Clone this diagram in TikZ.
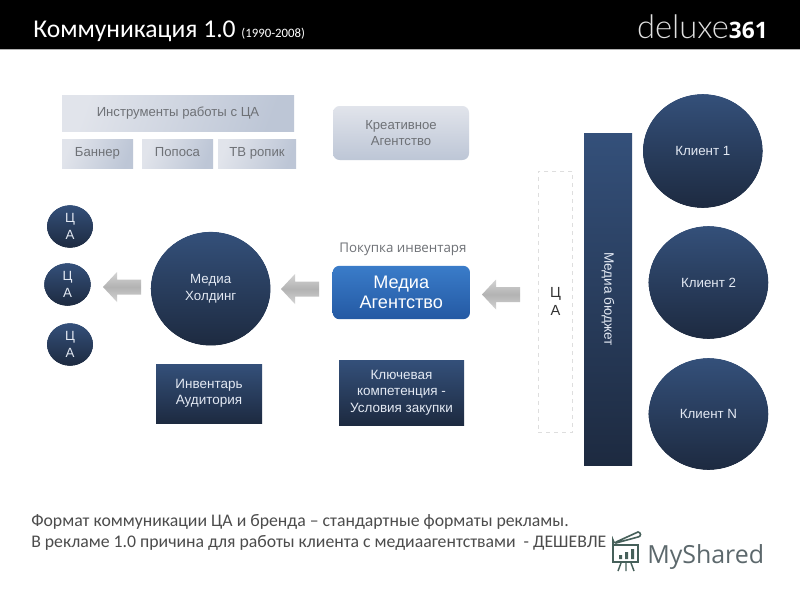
\documentclass[tikz,border=0pt]{standalone}
\usepackage{fontspec}
\setmainfont{Liberation Sans}
\newfontfamily\carl{Carlito}
\newfontfamily\thinf{Lato Light}
\newfontfamily\opens{Open Sans}
\usetikzlibrary{shapes.geometric}
\definecolor{darktop}{HTML}{34507A}
\definecolor{darkbot}{HTML}{1D2A40}
\definecolor{palet}{HTML}{E1E4EB}
\definecolor{palem}{HTML}{BDC6D6}
\definecolor{txtgray}{HTML}{6E7176}
\definecolor{txtlight}{HTML}{E3E9F3}
\definecolor{logogr}{HTML}{46605A}
\definecolor{logotxt}{HTML}{5C686C}
\definecolor{blueA}{HTML}{3A7CC9}
\definecolor{blueB}{HTML}{2459A3}
\tikzset{
 x=0.75pt,y=-0.75pt,
 darkball/.style={ellipse,inner sep=0pt,top color=darktop,bottom color=darkbot,draw=none,text=txtlight,align=center,font=\fontsize{10}{12.5}\selectfont},
 darkrect/.style={rectangle,inner sep=0pt,top color=darktop,bottom color=darkbot,draw=none,text=txtlight,align=center,font=\fontsize{10.1}{12.3}\selectfont},
 palerect/.style={rectangle,inner sep=0pt,left color=palet,right color=palem,shading angle=70,draw=none,text=txtgray,align=center,font=\fontsize{9.85}{12}\selectfont,text height=7pt,text depth=2pt},
 grayarrow/.style={top color=black!17,bottom color=black!17,middle color=black!30,draw=none},
}
\newcommand{\boxnode}[6]{\node[#1,minimum width=#4*0.75pt,minimum height=#5*0.75pt] (#2) at (#3) {#6};}
\newcommand{\ballnode}[5]{\node[darkball,minimum width=#3*0.75pt,minimum height=#4*0.75pt] (#1) at (#2) {#5};
 \draw[white,line width=2.2pt] (#1.center) ellipse [x radius=#3/2+1.5,y radius=#4/2+1.5];}
\newcommand{\blockarrow}[2]{\shade[grayarrow] (#1,#2) -- ++(14,-15) -- ++(0,7.5) -- ++(24,0) -- ++(0,15) -- ++(-24,0) -- ++(0,7.5) -- cycle;}
\begin{document}
\begin{tikzpicture}
\useasboundingbox (0,0) rectangle (800,600);
\fill[white] (0,0) rectangle (800,600);
\fill[black] (0,0) rectangle (800,48.5);
\fill[gray!60] (0,48.5) rectangle (800,50);
\node[anchor=base west,inner sep=0pt,text=white] (title) at (33,37) {\carl\fontsize{19.2}{20}\selectfont Коммуникация 1.0 \fontsize{9.6}{12}\selectfont(1990-2008)};
\node[anchor=base east,inner sep=0pt,text=white] (logo) at (768,38) {\thinf\color{black!12}\fontsize{24.5}{26}\selectfont deluxe\opens\bfseries\color{white}\fontsize{17}{24}\selectfont 361};

\boxnode{palerect}{tools}{178,113}{232}{36}{Инструменты работы с ЦА}
\boxnode{palerect}{banner}{97.5,153.5}{71}{29}{Баннер}
\boxnode{palerect}{popos}{177.5,153.5}{71}{29}{Попоса}
\boxnode{palerect}{tv}{257,153.5}{78}{29}{ТВ ропик}
\node[rectangle,rounded corners=5pt,inner sep=0pt,top color=palet,bottom color=palem,text=txtgray,align=center,font=\fontsize{9.85}{12}\selectfont,minimum width=102pt,minimum height=40.5pt] (creative) at (401,133) {Креативное\\Агентство};

\ballnode{ca1}{70,226.5}{46.5}{43}{Ц\\А}
\ballnode{ca2}{67.5,284.5}{47}{43}{Ц\\А}
\ballnode{ca3}{70,344.5}{46.5}{43}{Ц\\А}
\ballnode{holding}{210.7,288.7}{120}{114}{Медиа\\Холдинг}
\node[rectangle,rounded corners=5pt,inner sep=0pt,top color=blueA,bottom color=blueB,text=white,align=center,font=\fontsize{13.6}{15.5}\selectfont,minimum width=103pt,minimum height=40pt] (agency) at (401.3,292.5) {Медиа\\Агентство};
\node[inner sep=0pt,text=txtgray,font=\opens\fontsize{10}{12}\selectfont] (buy) at (403,249) {Покупка инвентаря};
\boxnode{darkrect}{inventory}{209,393.5}{106}{59}{Инвентарь\\Аудитория}
\boxnode{darkrect}{key}{401.5,392.5}{125}{65}{Ключевая\\компетенция -\\Условия закупки}

\node[draw=black!13,dashed,line width=0.6pt,inner sep=0pt,minimum width=26pt,minimum height=195.7pt,align=center,text=black!80,font=\fontsize{11}{13.5}\selectfont] (target) at (555.5,301.5) {Ц\\А};
\boxnode{darkrect}{budget}{608,299.5}{48}{332}{}
\node[rotate=270,inner sep=0pt,text=txtlight,font=\fontsize{10.2}{12}\selectfont] (budgetlabel) at (608,299) {Медиа бюджет};
\ballnode{c1}{702.8,151}{120}{114}{Клиент 1}
\ballnode{c2}{708.5,282.5}{120}{113}{Клиент 2}
\ballnode{cn}{708.5,414}{120}{112}{Клиент N}

\blockarrow{103}{287}
\blockarrow{281}{289}
\blockarrow{482}{294.5}

\node[anchor=base west,inner sep=0pt,text=black!70,font=\carl\fontsize{13.3}{15}\selectfont] (l1) at (31,526) {Формат коммуникации ЦА и бренда – стандартные форматы рекламы.};
\node[anchor=base west,inner sep=0pt,text=black!70,font=\carl\fontsize{13.3}{15}\selectfont] (l2) at (31,547) {В рекламе 1.0 причина для работы клиента с медиаагентствами \ - ДЕШЕВЛЕ};

\node[anchor=base west,inner sep=0pt,text=logotxt,font=\opens\fontsize{18.7}{24}\selectfont] (myshared) at (647,563) {MyShared};
\draw[logogr,line width=1.2pt] (613,545) rectangle (638,562);
\draw[logogr,line width=1.2pt] (613,557) -- (613,540) arc[start angle=180,end angle=90,radius=3] -- (638,537) arc[start angle=90,end angle=-90,radius=2.5] -- (616,542);
\fill[logogr] (619,555) rectangle (622,559) (625,552) rectangle (628,559) (631,549) rectangle (634,559);
\draw[logogr,line width=1.1pt] (621,563) -- (618,571) (626,563) -- (626,571) (631,563) -- (634,571);
\end{tikzpicture}
\end{document}
